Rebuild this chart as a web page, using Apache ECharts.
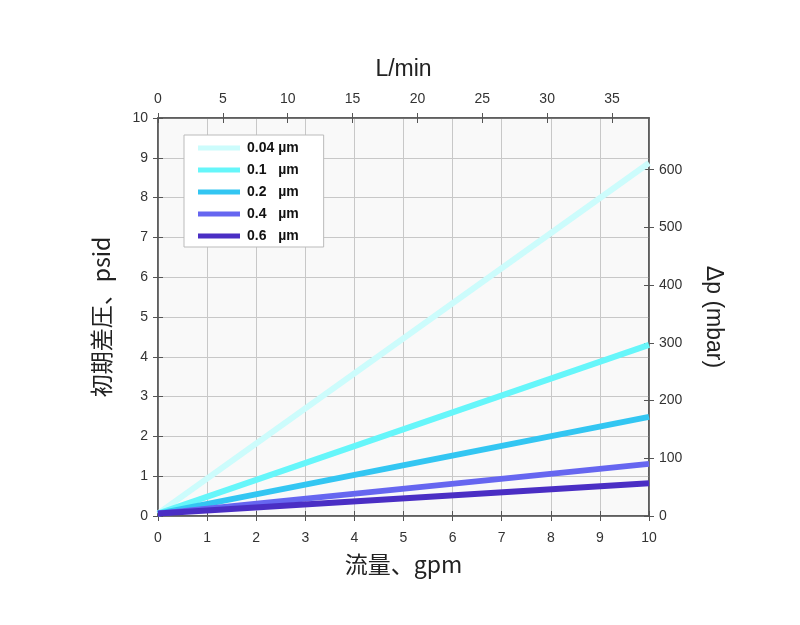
<!DOCTYPE html>
<html><head><meta charset="utf-8">
<script src="https://cdn.jsdelivr.net/npm/echarts@6/dist/echarts.min.js"></script>
<style>html,body{margin:0;padding:0;background:#fff}#c{width:800px;height:625px}</style>
</head><body><div id="c"></div>
<script>
const seriesNames = ['0.04 µm', '0.1   µm', '0.2   µm', '0.4   µm', '0.6   µm'];
const seriesColors = ['#ccfcfc', '#66f6fa', '#33c6f2', '#6666f0', '#4a2ec4'];
const flowGpm = [0, 10];
const startPsid = [0.06, 0.06, 0.06, 0.06, 0.06];
const endPsid = [8.87, 4.30, 2.49, 1.31, 0.82];
const lpmTicks = [0, 5, 10, 15, 20, 25, 30, 35];
const mbarTicks = [0, 100, 200, 300, 400, 500, 600];
const GPM_TO_LPM = 3.78541;
const PSI_TO_MBAR = 68.9476;

const font = 'Liberation Sans, Arial, sans-serif';
const cjk = 'Noto Sans CJK JP, sans-serif';
const labelStyle = {color: '#333', fontSize: 14, fontFamily: font};
const nameStyle = {fontSize: 23, color: '#222', fontFamily: font};
const nameStyleCJK = {fontSize: 23, color: '#222', fontFamily: cjk};
const axisLine = {show: true, onZero: false, lineStyle: {color: '#555', width: 1.5}};
const tickStyle = {lineStyle: {color: '#555'}};
const gridBox = {left: 158, right: 151, top: 118, bottom: 109};

const series = seriesNames.map((n, i) => ({
  name: n, type: 'line', xAxisIndex: 0, yAxisIndex: 0,
  data: [[flowGpm[0], startPsid[i]], [flowGpm[1], endPsid[i]]],
  showSymbol: false, symbol: 'none',
  lineStyle: {color: seriesColors[i], width: 6},
  itemStyle: {color: seriesColors[i]},
  z: 5 + i
}));

function innerTicks(pos, max, interval, custom) {
  const tick = {show: true, inside: true, length: 5, ...tickStyle};
  if (custom) tick.customValues = custom;
  return {type: 'value', gridIndex: 1, position: pos, min: 0, max: max, interval: interval,
    axisLine: {show: false, onZero: false}, axisTick: tick,
    axisLabel: {show: false}, splitLine: {show: false}};
}

const chart = echarts.init(document.getElementById('c'));
chart.setOption({
  animation: false,
  grid: [
    {...gridBox, show: true, backgroundColor: '#f9f9f9', borderColor: '#555', borderWidth: 1.5},
    {...gridBox, show: false}
  ],
  legend: {
    orient: 'vertical', left: 184, top: 135, data: seriesNames,
    icon: 'rect', itemWidth: 42, itemHeight: 5, itemGap: 8,
    backgroundColor: '#fff', borderColor: '#bbb', borderWidth: 1,
    padding: [6, 25, 4, 14],
    textStyle: {fontWeight: 'bold', fontSize: 14, color: '#111', fontFamily: font, padding: [0, 0, 0, 2]}
  },
  xAxis: [
    {type: 'value', gridIndex: 0, position: 'bottom', min: 0, max: 10, interval: 1,
     name: '流量、gpm', nameLocation: 'middle', nameGap: 37, nameTextStyle: nameStyleCJK,
     axisLine: axisLine, axisTick: {show: true, length: 5, ...tickStyle},
     axisLabel: {...labelStyle, margin: 15},
     splitLine: {show: true, lineStyle: {color: '#c8c8c8', width: 1}}},
    {type: 'value', gridIndex: 0, position: 'top', min: 0, max: 10 * GPM_TO_LPM, interval: 5,
     name: 'L/min', nameLocation: 'middle', nameGap: 37, nameTextStyle: nameStyle,
     axisLine: axisLine, axisTick: {show: true, length: 5, customValues: lpmTicks, ...tickStyle},
     axisLabel: {...labelStyle, margin: 12, customValues: lpmTicks},
     splitLine: {show: false}},
    innerTicks('bottom', 10, 1),
    innerTicks('top', 10 * GPM_TO_LPM, 5, lpmTicks)
  ],
  yAxis: [
    {type: 'value', gridIndex: 0, position: 'left', min: 0, max: 10, interval: 1,
     name: '初期差圧、psid', nameLocation: 'middle', nameGap: 45, nameRotate: 90, nameTextStyle: nameStyleCJK,
     axisLine: axisLine, axisTick: {show: true, length: 5, ...tickStyle},
     axisLabel: {...labelStyle, margin: 10},
     splitLine: {show: true, lineStyle: {color: '#c8c8c8', width: 1}}},
    {type: 'value', gridIndex: 0, position: 'right', min: 0, max: 10 * PSI_TO_MBAR, interval: 100,
     name: 'Δp (mbar)', nameLocation: 'middle', nameGap: 53, nameRotate: -90, nameTextStyle: nameStyle,
     axisLine: axisLine, axisTick: {show: true, length: 5, customValues: mbarTicks, ...tickStyle},
     axisLabel: {...labelStyle, margin: 10, customValues: mbarTicks},
     splitLine: {show: false}},
    innerTicks('left', 10, 1),
    innerTicks('right', 10 * PSI_TO_MBAR, 100, mbarTicks)
  ],
  series: series
});
</script></body></html>
